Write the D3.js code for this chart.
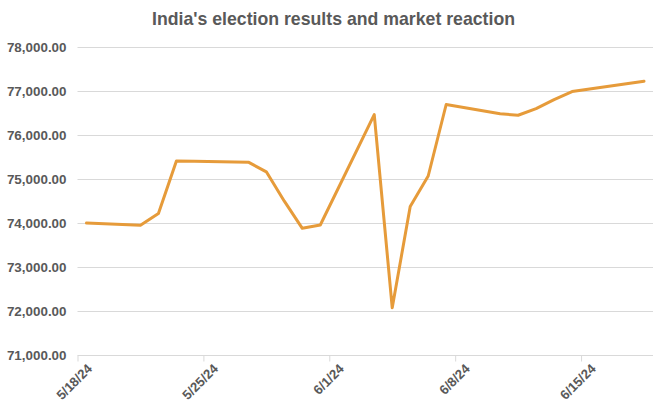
<!DOCTYPE html>
<html><head><meta charset="utf-8">
<script src="https://cdn.jsdelivr.net/npm/d3@7"></script>
<style>body{margin:0;background:#fff;}svg{display:block;font-family:"Liberation Sans",Arial,sans-serif;}</style>
</head><body>
<script>
const dates = ["2024-05-18","2024-05-21","2024-05-22","2024-05-23","2024-05-24","2024-05-27","2024-05-28","2024-05-29","2024-05-30","2024-05-31","2024-06-03","2024-06-04","2024-06-05","2024-06-06","2024-06-07","2024-06-10","2024-06-11","2024-06-12","2024-06-13","2024-06-14","2024-06-18"];
const values = [74005,73953,74221,75418,75410,75390,75170,74503,73886,73961,76469,72079,74382,75075,76700,76490,76456,76607,76811,76993,77230];
const yTicks = [71000,72000,73000,74000,75000,76000,77000,78000];
const xTickLabels = ["5/18/24","5/25/24","6/1/24","6/8/24","6/15/24"];
const title = "India's election results and market reaction";

const W=664,H=415;
const svg=d3.select("body").append("svg").attr("width",W).attr("height",H);
const parse=d3.utcParse("%Y-%m-%d");
const data=dates.map((d,i)=>({d:parse(d),v:values[i]}));
const x=d3.scaleUtc().domain([parse("2024-05-18"),parse("2024-06-19")]).range([77.5,653]);
const y=d3.scaleLinear().domain([71000,78000]).range([355.3,47.3]);
const half=12*3600*1000;

svg.append("text").attr("x",333.5).attr("y",25).attr("text-anchor","middle")
 .attr("font-size",17.7).attr("font-weight","bold").attr("fill","#595959").text(title);

const g=svg.append("g");
g.selectAll("line.grid").data(yTicks.slice(1)).join("line").attr("class","grid")
 .attr("x1",77.5).attr("x2",653).attr("y1",d=>Math.round(y(d))+0.5).attr("y2",d=>Math.round(y(d))+0.5)
 .attr("stroke","#d9d9d9").attr("stroke-width",1);

const yAxis=d3.axisLeft(y).tickValues(yTicks).tickSize(0).tickPadding(11).tickFormat(d3.format(",.2f"));
const ya=svg.append("g").attr("transform","translate(77.5,0)").call(yAxis);
ya.select(".domain").remove();
ya.selectAll("text").attr("font-size",13.4).attr("font-weight","bold").attr("fill","#595959").attr("font-family","Liberation Sans, Arial, sans-serif");

const xTickDates=xTickLabels.map(s=>d3.utcParse("%m/%d/%y")(s));
const xAxis=d3.axisBottom(x).tickValues(xTickDates).tickSize(6).tickFormat((d,i)=>xTickLabels[i]);
const xa=svg.append("g").attr("transform","translate(0,"+(Math.round(y(71000))+0.5)+")").call(xAxis);
xa.select(".domain").attr("stroke","#d9d9d9").attr("d","M77.5,0H653");
xa.selectAll(".tick line").attr("stroke","#d9d9d9");
xa.selectAll("text").attr("font-size",13.2).attr("font-weight","bold").attr("fill","#595959")
 .attr("font-family","Liberation Sans, Arial, sans-serif")
 .attr("text-anchor","end").attr("dy",null).attr("y",0)
 .attr("transform","translate(15,14) rotate(-45)");

const line=d3.line().x(d=>x(new Date(+d.d+half))).y(d=>y(d.v));
svg.append("path").datum(data).attr("d",line).attr("fill","none")
 .attr("stroke","#E69B3A").attr("stroke-width",3).attr("stroke-linejoin","round").attr("stroke-linecap","round");
</script>
</body></html>
